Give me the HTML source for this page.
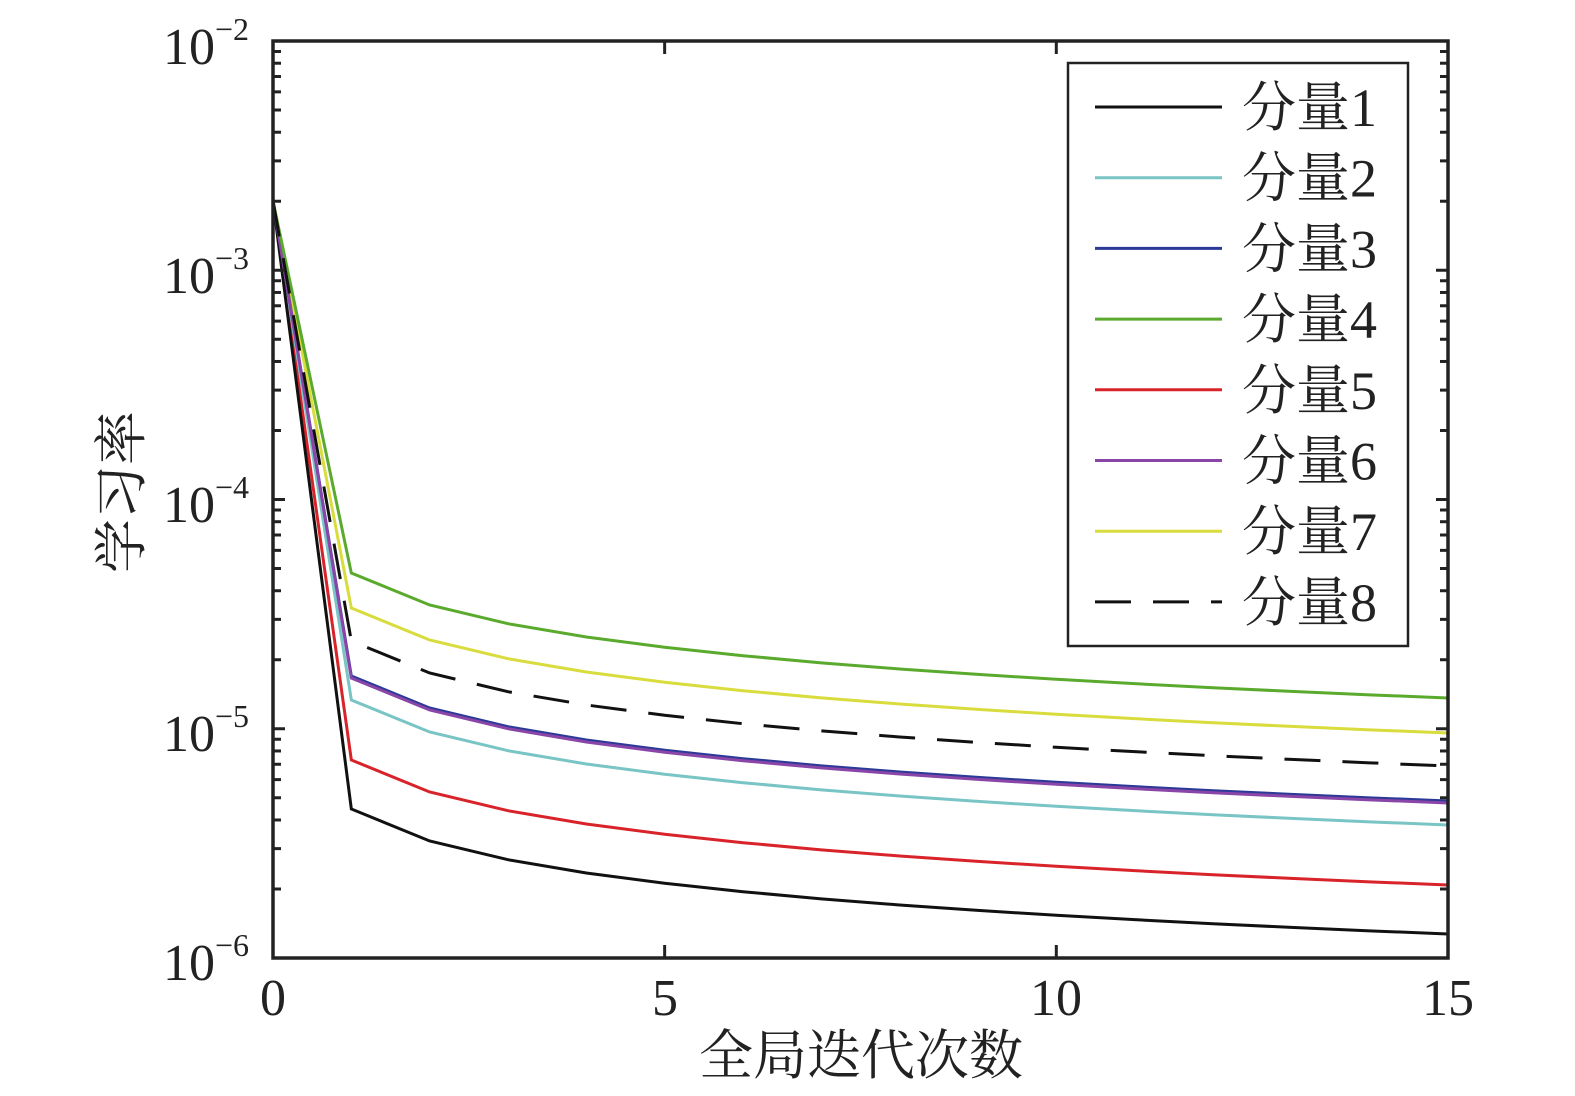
<!DOCTYPE html>
<html><head><meta charset="utf-8"><style>
html,body{margin:0;padding:0;background:#fff;width:1575px;height:1096px;overflow:hidden}
text{font-family:"Liberation Serif","Noto Serif CJK SC",serif;fill:#222}
</style></head><body>
<svg id="s" width="1575" height="1096" xmlns="http://www.w3.org/2000/svg">
<g id="lines" fill="none" stroke-width="3"></g>
<rect x="273" y="41" width="1175" height="917" fill="none" stroke="#222" stroke-width="3.5"/>
<g id="ticks" stroke="#222" stroke-width="3"></g>
<g font-size="52">
<text x="163" y="64">10<tspan font-size="32" dy="-24">−2</tspan></text>
<text x="163" y="293">10<tspan font-size="32" dy="-24">−3</tspan></text>
<text x="163" y="522">10<tspan font-size="32" dy="-24">−4</tspan></text>
<text x="163" y="751">10<tspan font-size="32" dy="-24">−5</tspan></text>
<text x="163" y="980">10<tspan font-size="32" dy="-24">−6</tspan></text>
<text x="273" y="1015" text-anchor="middle">0</text>
<text x="665" y="1015" text-anchor="middle">5</text>
<text x="1056" y="1015" text-anchor="middle">10</text>
<text x="1448" y="1015" text-anchor="middle">15</text>
<text x="861" y="1074" text-anchor="middle" font-size="54">全局迭代次数</text>
<text transform="translate(140,492) rotate(-90)" text-anchor="middle" font-size="54">学习率</text>
</g>
<rect x="1068" y="63" width="340" height="583" fill="#fff" stroke="#222" stroke-width="2.5"/>
<g id="leg" font-size="54"></g>
</svg>
<script>
var X=function(x){return 273+x*78.33};
var series=[["#111",809,0],["#79c4c4",700,0],["#2b3a97",676,0],["#5aaa2e",573,0],["#d9232a",760,0],["#8a45a8",678,0],["#d8dc3c",608,0],["#111",641,1]];
var order=[4,1,6,0,2,5,3,7];
var g=document.getElementById('lines'),ns="http://www.w3.org/2000/svg";
function mk(t,a,p){var e=document.createElementNS(ns,t);for(var k in a)e.setAttribute(k,a[k]);p.appendChild(e);return e}
order.forEach(function(i){var s=series[i],pts=[X(0)+","+201];
for(var x=1;x<=15;x++)pts.push(X(x)+","+(s[1]+125*Math.log10(x)/Math.log10(15)));
var a={points:pts.join(" "),stroke:s[0]};if(s[2])a["stroke-dasharray"]="36,22";mk("polyline",a,g);});
var t=document.getElementById('ticks');
for(var d=0;d<4;d++){for(var m=2;m<=9;m++){var y=958-(d+Math.log10(m))*229.25;
mk("line",{x1:273,x2:281,y1:y,y2:y},t);mk("line",{x1:1448,x2:1440,y1:y,y2:y},t);}
var y=958-d*229.25;mk("line",{x1:273,x2:285,y1:y,y2:y},t);mk("line",{x1:1448,x2:1436,y1:y,y2:y},t);}
[5,10].forEach(function(x){mk("line",{x1:X(x),x2:X(x),y1:958,y2:945},t);mk("line",{x1:X(x),x2:X(x),y1:41,y2:54},t);});
var L=document.getElementById('leg');
series.forEach(function(s,i){var y=107+i*70.7;var a={x1:1095,x2:1222,y1:y,y2:y,stroke:s[0],"stroke-width":3};
if(s[2])a["stroke-dasharray"]="36,22";mk("line",a,L);var tx=mk("text",{x:1242,y:y+19},L);tx.textContent="分量"+(i+1);});
</script>
</body></html>
